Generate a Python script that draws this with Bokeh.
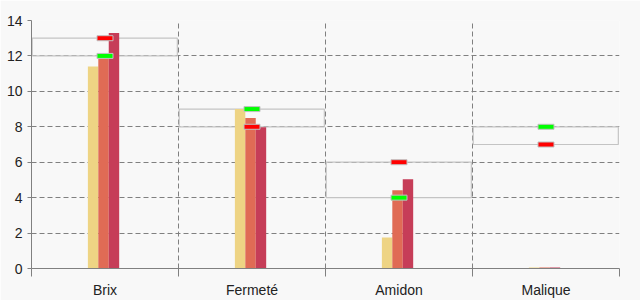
from bokeh.plotting import figure
from bokeh.models import Range1d, FixedTicker
from bokeh.embed import file_html
from bokeh.resources import INLINE

categories = ["Brix", "Fermeté", "Amidon", "Malique"]
series1 = [11.4, 9.0, 1.75, 0.05]
series2 = [11.95, 8.5, 4.42, 0.05]
series3 = [13.3, 7.97, 5.04, 0.05]
range_low = [12, 8, 4, 7]
range_high = [13, 9, 6, 8]
green_marks = [12, 9, 4, 8]
red_marks = [13, 8, 6, 7]
y_ticks = [0, 2, 4, 6, 8, 10, 12, 14]

n = len(categories)
centers = [i + 0.5 for i in range(n)]

p = figure(width=640, height=300, output_backend="svg", toolbar_location=None,
           x_range=Range1d(0, n), y_range=Range1d(0, 14),
           min_border_left=31, min_border_right=21, min_border_top=20, min_border_bottom=30)
p.background_fill_color = "#F8F8F8"
p.border_fill_color = "#F8F8F8"
p.outline_line_color = None

# range boxes
p.quad(left=[i + 0.005 for i in range(n)], right=[i + 0.992 for i in range(n)],
       bottom=range_low, top=range_high, fill_color=None, line_color="#C4C4C4", line_width=1.2)

colors = ["#EED484", "#E06B55", "#C63D58"]
offsets = [-0.081, -0.010, 0.061]
for vals, col, off in zip([series1, series2, series3], colors, offsets):
    p.vbar(x=[c + off for c in centers], top=vals, bottom=0, width=0.071,
           fill_color=col, line_color=None)

p.rect(x=centers, y=green_marks, width=16, height=5, width_units="screen", height_units="screen",
       fill_color="#00FF00", line_color="#C0C0C0", line_width=1)
p.rect(x=centers, y=red_marks, width=16, height=5, width_units="screen", height_units="screen",
       fill_color="#FF0000", line_color="#C0C0C0", line_width=1)

# grid
p.xgrid.ticker = FixedTicker(ticks=list(range(n + 1)))
p.ygrid.ticker = FixedTicker(ticks=y_ticks)
for g in (p.xgrid, p.ygrid):
    g.grid_line_color = "#808080"
    g.grid_line_dash = "5 3"
    g.grid_line_width = 1

# x axis
p.xaxis.ticker = FixedTicker(ticks=centers, minor_ticks=list(range(n + 1)))
p.xaxis.major_label_overrides = {c: cat for c, cat in zip(centers, categories)}
p.xaxis.major_tick_out = 0
p.xaxis.major_tick_in = 0
p.xaxis.minor_tick_out = 8
p.xaxis.minor_tick_in = 0
p.xaxis.minor_tick_line_color = "#808080"
p.xaxis.major_label_standoff = 5

# y axis
p.yaxis.ticker = FixedTicker(ticks=y_ticks)
p.yaxis.major_tick_out = 4
p.yaxis.major_tick_in = 0
p.yaxis.minor_tick_line_color = None
p.yaxis.major_label_standoff = 5

for ax in (p.xaxis, p.yaxis):
    ax.axis_line_color = "#808080"
    ax.major_tick_line_color = "#808080"
    ax.major_label_text_font = "Liberation Sans"
    ax.major_label_text_font_size = "14px"
    ax.major_label_text_color = "#222222"

open("out.html", "w").write(file_html(p, INLINE))
